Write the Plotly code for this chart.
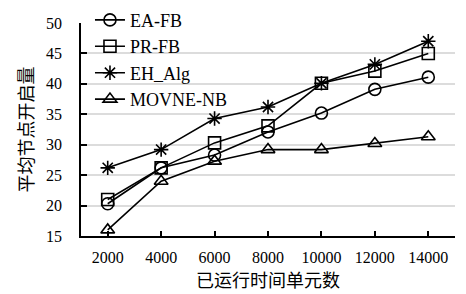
import plotly.graph_objects as go

categories = ["2000", "4000", "6000", "8000", "10000", "12000", "14000"]
ea_fb = [20.3, 26.2, 28.3, 32.1, 35.2, 39.1, 41.1]
pr_fb = [21.0, 26.2, 30.3, 33.1, 40.1, 42.1, 45.0]
eh_alg = [26.2, 29.2, 34.3, 36.2, 40.1, 43.2, 47.0]
movne_nb = [16.0, 24.0, 27.3, 29.2, 29.2, 30.2, 31.3]
y_ticks = [15, 20, 25, 30, 35, 40, 45, 50]

series = [
    ("EA-FB", ea_fb, "circle-open"),
    ("PR-FB", pr_fb, "square-open"),
    ("EH_Alg", eh_alg, "asterisk-open"),
    ("MOVNE-NB", movne_nb, "triangle-up-open"),
]

fig = go.Figure()
for i, (name, vals, sym) in enumerate(series):
    fig.add_trace(go.Scatter(
        x=categories, y=vals, name=name, mode="lines+markers",
        legendgroup=f"g{i}",
        line=dict(color="black", width=1.6),
        marker=dict(symbol=sym, size=12, color="black",
                    line=dict(color="black", width=1.6)),
    ))

serif = "Liberation Serif, Times New Roman, serif"
cjk = "Noto Sans CJK SC"
fig.update_layout(
    width=466, height=294,
    margin=dict(l=81, r=11, t=23, b=58, autoexpand=False),
    plot_bgcolor="white", paper_bgcolor="white",
    font=dict(family=serif, size=16, color="black"),
    showlegend=True,
    legend=dict(x=0.024, y=1.10, xanchor="left", yanchor="top",
                bgcolor="rgba(0,0,0,0)", font=dict(size=18, family=serif),
                itemwidth=30, tracegroupgap=0),
    xaxis=dict(
        type="category", range=[-0.5, 6.5],
        showline=True, linecolor="black", linewidth=1.5,
        ticks="inside", ticklen=5, tickcolor="black", tickwidth=2,
        showgrid=False, tickfont=dict(size=16, family=serif),
        ticklabelstandoff=6,
        title=dict(text="已运行时间单元数", font=dict(size=18, family=cjk, color="black"), standoff=6),
        automargin=False,
    ),
    yaxis=dict(
        range=[15, 50], tickvals=y_ticks,
        showline=True, linecolor="black", linewidth=1.5,
        ticks="inside", ticklen=6, tickcolor="black", tickwidth=1.5,
        showgrid=True, gridcolor="#dcdcdc", gridwidth=1.5,
        tickfont=dict(size=16, family=serif),
        ticklabelstandoff=14,
        title=dict(text="平均节点开启量", font=dict(size=18, family=cjk, color="black"), standoff=8),
        zeroline=False, automargin=False,
    ),
)

fig.write_html(
    "out.html",
    config={"displayModeBar": False},
    post_script="document.body.style.margin='0';document.body.style.padding='0';",
)
